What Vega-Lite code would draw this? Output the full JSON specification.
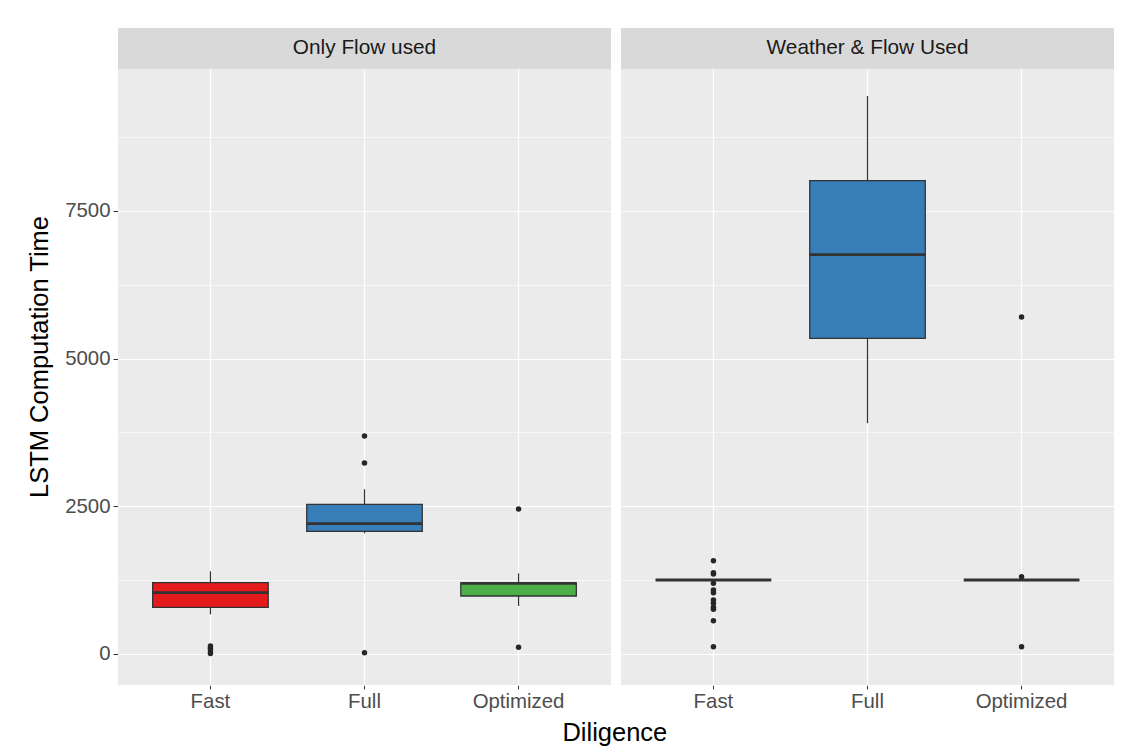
{
  "$schema": "https://vega.github.io/schema/vega-lite/v6.json",
  "background": "white",
  "padding": {"left": 27, "top": 28, "right": 0, "bottom": 0},
  "title": {
    "text": "Diligence",
    "orient": "bottom",
    "anchor": "middle",
    "frame": "bounds",
    "font": "Liberation Sans",
    "fontSize": 25.5,
    "fontWeight": "normal",
    "color": "#000000",
    "offset": 10,
    "dx": 44
  },
  "datasets": {
    "rows": [
      {"kind": "box", "panel": "Only Flow used", "diligence": "Fast", "lower": 672, "q1": 790, "median": 1038, "q3": 1207, "upper": 1400},
      {"kind": "box", "panel": "Only Flow used", "diligence": "Full", "lower": 2043, "q1": 2077, "median": 2206, "q3": 2534, "upper": 2788},
      {"kind": "box", "panel": "Only Flow used", "diligence": "Optimized", "lower": 813, "q1": 982, "median": 1196, "q3": 1202, "upper": 1366},
      {"kind": "box", "panel": "Weather & Flow Used", "diligence": "Fast", "lower": 1253, "q1": 1253, "median": 1253, "q3": 1253, "upper": 1253},
      {"kind": "box", "panel": "Weather & Flow Used", "diligence": "Full", "lower": 3906, "q1": 5345, "median": 6760, "q3": 8013, "upper": 9447},
      {"kind": "box", "panel": "Weather & Flow Used", "diligence": "Optimized", "lower": 1253, "q1": 1253, "median": 1253, "q3": 1253, "upper": 1253},
      {"kind": "out", "panel": "Only Flow used", "diligence": "Fast", "value": 135},
      {"kind": "out", "panel": "Only Flow used", "diligence": "Fast", "value": 96},
      {"kind": "out", "panel": "Only Flow used", "diligence": "Fast", "value": 56},
      {"kind": "out", "panel": "Only Flow used", "diligence": "Fast", "value": 8},
      {"kind": "out", "panel": "Only Flow used", "diligence": "Full", "value": 3690},
      {"kind": "out", "panel": "Only Flow used", "diligence": "Full", "value": 3233},
      {"kind": "out", "panel": "Only Flow used", "diligence": "Full", "value": 22},
      {"kind": "out", "panel": "Only Flow used", "diligence": "Optimized", "value": 2455},
      {"kind": "out", "panel": "Only Flow used", "diligence": "Optimized", "value": 113},
      {"kind": "out", "panel": "Weather & Flow Used", "diligence": "Fast", "value": 1580},
      {"kind": "out", "panel": "Weather & Flow Used", "diligence": "Fast", "value": 1376},
      {"kind": "out", "panel": "Weather & Flow Used", "diligence": "Fast", "value": 1354},
      {"kind": "out", "panel": "Weather & Flow Used", "diligence": "Fast", "value": 1197},
      {"kind": "out", "panel": "Weather & Flow Used", "diligence": "Fast", "value": 1083},
      {"kind": "out", "panel": "Weather & Flow Used", "diligence": "Fast", "value": 1038},
      {"kind": "out", "panel": "Weather & Flow Used", "diligence": "Fast", "value": 914},
      {"kind": "out", "panel": "Weather & Flow Used", "diligence": "Fast", "value": 858},
      {"kind": "out", "panel": "Weather & Flow Used", "diligence": "Fast", "value": 790},
      {"kind": "out", "panel": "Weather & Flow Used", "diligence": "Fast", "value": 757},
      {"kind": "out", "panel": "Weather & Flow Used", "diligence": "Fast", "value": 564},
      {"kind": "out", "panel": "Weather & Flow Used", "diligence": "Fast", "value": 124},
      {"kind": "out", "panel": "Weather & Flow Used", "diligence": "Optimized", "value": 5705},
      {"kind": "out", "panel": "Weather & Flow Used", "diligence": "Optimized", "value": 1309},
      {"kind": "out", "panel": "Weather & Flow Used", "diligence": "Optimized", "value": 124}
    ]
  },
  "data": {"name": "rows"},
  "facet": {
    "column": {
      "field": "panel",
      "type": "nominal",
      "sort": ["Only Flow used", "Weather & Flow Used"],
      "header": {"labels": false, "title": null, "labelPadding": 0, "titlePadding": 0}
    }
  },
  "spacing": 10,
  "spec": {
    "width": 493,
    "height": 657,
    "layer": [
      {
        "transform": [{"filter": "datum.kind === 'box' && datum.diligence === 'Full'"}],
        "mark": {"type": "rect", "color": "#d9d9d9", "clip": false},
        "encoding": {
          "y": {
            "datum": 9904,
            "type": "quantitative",
            "title": "LSTM Computation Time",
            "scale": {"domain": [-525, 10598], "nice": false, "zero": false},
            "axis": {
              "grid": true,
              "values": [0, 1250, 2500, 3750, 5000, 6250, 7500, 8750],
              "format": "d",
              "labelExpr": "datum.value % 2500 === 0 ? datum.label : ''",
              "tickOpacity": {"condition": {"test": "datum.value % 2500 === 0", "value": 1}, "value": 0},
              "gridWidth": {"condition": {"test": "datum.value % 2500 === 0", "value": 1.2}, "value": 0.6},
              "gridColor": "#ffffff",
              "gridOpacity": 1,
              "labelPadding": 3,
              "titlePadding": 12
            }
          },
          "y2": {"datum": 10598}
        }
      },
      {
        "transform": [{"filter": "datum.kind === 'box' && datum.diligence === 'Full'"}],
        "mark": {"type": "text", "fontSize": 20.8, "color": "#1a1a1a", "font": "Liberation Sans", "baseline": "middle"},
        "encoding": {
          "x": {"field": "diligence", "type": "nominal", "title": null},
          "y": {"datum": 10251, "type": "quantitative", "title": "LSTM Computation Time"},
          "text": {"field": "panel"}
        }
      },
      {
        "transform": [{"filter": "datum.kind === 'box'"}],
        "mark": {"type": "rule", "color": "#333333", "strokeWidth": 1.2},
        "encoding": {
          "x": {
            "field": "diligence",
            "type": "nominal",
            "title": null,
            "scale": {"type": "band", "domain": ["Fast", "Full", "Optimized"], "paddingInner": 0.25, "paddingOuter": 0.225},
            "axis": {"bandPosition": 0.5, "labelAngle": 0, "labelAlign": "center", "grid": true, "gridWidth": 1.2, "tickSize": 4, "labelPadding": 12, "title": null}
          },
          "y": {"field": "lower", "type": "quantitative", "title": "LSTM Computation Time"},
          "y2": {"field": "upper"}
        }
      },
      {
        "transform": [{"filter": "datum.kind === 'box'"}],
        "mark": {"type": "bar", "stroke": "#333333", "strokeWidth": 1.3},
        "encoding": {
          "x": {"field": "diligence", "type": "nominal", "title": null},
          "y": {"field": "q1", "type": "quantitative", "title": "LSTM Computation Time"},
          "y2": {"field": "q3"},
          "fill": {
            "field": "diligence",
            "type": "nominal",
            "scale": {"domain": ["Fast", "Full", "Optimized"], "range": ["#E41A1C", "#377EB8", "#4DAF4A"]},
            "legend": null
          }
        }
      },
      {
        "transform": [{"filter": "datum.kind === 'box'"}],
        "mark": {"type": "bar", "fill": null, "fillOpacity": 0, "stroke": "#333333", "strokeWidth": 2.8},
        "encoding": {
          "x": {"field": "diligence", "type": "nominal", "title": null},
          "y": {"field": "median", "type": "quantitative", "title": "LSTM Computation Time"},
          "y2": {"field": "median"}
        }
      },
      {
        "transform": [{"filter": "datum.kind === 'out'"}],
        "mark": {"type": "circle", "color": "#262626", "size": 30, "opacity": 1},
        "encoding": {
          "x": {"field": "diligence", "type": "nominal", "title": null},
          "y": {"field": "value", "type": "quantitative", "title": "LSTM Computation Time"}
        }
      }
    ]
  },
  "config": {
    "font": "Liberation Sans",
    "view": {"fill": "#ebebeb", "stroke": null},
    "axis": {
      "domain": false,
      "gridColor": "#ffffff",
      "tickColor": "#333333",
      "tickWidth": 1,
      "labelColor": "#4d4d4d",
      "labelFont": "Liberation Sans",
      "labelFontSize": 20.4,
      "titleFont": "Liberation Sans",
      "titleFontSize": 25.5,
      "titleFontWeight": "normal",
      "titleColor": "#000000"
    }
  }
}
